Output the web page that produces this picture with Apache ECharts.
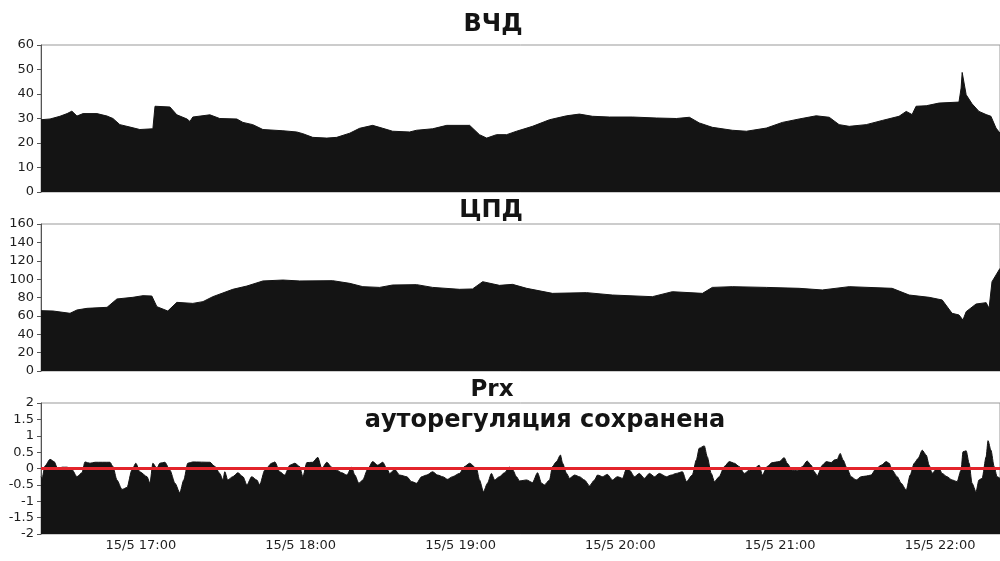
<!DOCTYPE html>
<html><head><meta charset="utf-8">
<script src="https://cdn.jsdelivr.net/npm/echarts@6/dist/echarts.min.js"></script>
<style>html,body{margin:0;padding:0;background:#fff}#c{width:1000px;height:561px}</style>
</head><body><div id="c"></div>
<script>
// times: minutes after 16:00 on 15 May
const vchdT = [22.5,25.9,29.6,32.3,34.1,36,38.3,43.5,47.3,49.5,52.1,55.9,59.6,64.5,65.3,70.9,73.5,77.3,78.4,79.5,85.9,89.6,96,98.3,102,105.8,113.3,118.5,120.8,124.5,129.8,133.5,138.4,142.1,147,150.8,154.5,160.9,163.5,169.5,174.8,183.4,187.1,189.8,193.5,197.3,201,207,213.4,219.8,224.6,229.5,235.9,244.5,253.5,261,265.9,269.6,274.5,282,287.3,294.8,300.8,307.1,313.5,318.4,322.1,325.9,332.3,338.3,344.6,347.3,349.5,351,354.8,359.6,367.1,367.9,368.3,369.8,372,374.6,377.3,379.1,381,382.5];
const vchdV = [29.5,29.8,30.9,32,33,31,32,32,31,30,27.5,26.5,25.5,25.8,35,34.7,31.5,29.8,28.8,30.6,31.5,30,29.8,28.4,27.5,25.5,25,24.5,23.8,22.3,22,22.3,24,26,27.2,26,24.8,24.5,25.2,25.8,27.2,27.2,23.4,22,23.4,23.4,24.8,26.8,29.5,31.1,31.8,30.9,30.6,30.6,30.2,30,30.5,28.2,26.4,25.2,24.8,26.1,28.4,29.8,31.1,30.5,27.5,26.8,27.5,29.2,30.9,32.9,31.6,35,35.2,36.3,36.7,42.4,48.8,39.7,36,32.9,31.6,30.9,26.1,24];

const cpdT = [22.5,27,33.4,36,39.8,47.3,51,57,60.8,64.1,66,70.1,73.5,79.5,83.3,87,94.5,99.8,105.8,113.3,119.6,132,138.4,143.3,149.6,154.5,163.5,169.5,179.6,184.5,188.3,194.6,199.5,204.8,214.5,227.3,237,252,259.5,270.8,274.5,282,294.8,307.1,315.8,325.9,342,348.4,355.9,360.8,364.5,367.1,368.6,369.8,373.5,377.3,378.4,379.5,382.5];
const cpdV = [65.7,65.3,62.8,66.4,68.2,69.3,78.4,80.2,82,81.6,70,65.3,74.7,73.6,75.5,80.9,88.9,92.5,98,99,98,98.3,95.4,91.8,91,93.6,94,91,88.9,89.3,97.2,93.2,94.3,90,84.5,85.3,82.7,80.9,86.3,84.5,91,91.8,91,90,88.2,91.8,90,82.7,80.2,77.3,62.8,61,55.5,64.6,72.9,74.4,68.2,97.2,111.7];

const prxT = [
22.5,22.9,24.0,25.9,27.4,28.9,30.4,32.3,34.1,36.0,
37.9,39.0,40.9,42.8,48.4,49.5,51.0,52.9,54.8,56.6,
58.1,59.6,62.3,63.4,64.5,66.0,67.1,69.0,70.9,72.8,
74.6,76.1,77.6,79.5,85.9,87.8,89.6,90.8,91.5,92.6,
94.5,96.4,98.3,99.8,101.6,103.5,104.6,106.5,109.1,110.3,
112.1,114.0,115.9,117.8,119.6,120.8,122.3,124.5,126.4,127.9,
129.8,131.6,133.5,135.4,137.3,139.1,140.3,141.8,143.3,145.1,
147.0,148.9,150.8,152.3,153.4,155.3,157.1,159.8,161.6,163.5,
165.4,167.3,169.5,171.4,173.3,175.1,177.0,179.6,181.5,183.4,
186.0,187.1,188.6,190.1,191.6,192.8,194.6,196.5,198.4,199.5,
201.0,202.1,204.8,207.0,208.9,210.4,211.5,213.4,214.5,216.0,
217.5,218.3,219.8,220.9,222.8,224.6,226.5,228.4,230.3,231.4,
233.3,235.1,237.0,238.9,240.8,242.3,243.4,245.3,247.1,249.0,
250.9,252.8,254.6,257.3,259.1,261.0,263.3,264.8,267.0,268.5,
269.6,271.5,272.6,274.1,275.3,277.1,279.0,280.9,282.8,284.6,
286.5,288.4,290.3,292.1,293.3,295.1,297.0,299.6,301.5,302.6,
304.5,306.4,308.3,310.1,311.6,312.8,313.9,315.8,317.3,319.1,
320.3,321.4,322.5,323.6,325.1,326.6,328.5,330.4,332.3,334.1,
336.0,337.9,339.8,340.9,342.0,343.9,345.4,347.3,348.8,350.3,
351.8,353.3,354.8,355.9,357.0,358.5,359.6,360.8,362.6,364.5,
366.4,367.9,368.6,369.8,370.9,372.0,373.5,374.6,375.8,377.3,
378.0,379.1,380.3,381.4,382.5];
const prxV = [
-0.25,-0.3,0.08,0.28,0.21,-0.03,0.04,0.04,-0.03,-0.25,
-0.13,0.2,0.16,0.19,0.19,0.06,-0.35,-0.64,-0.58,-0.05,
0.16,-0.1,-0.25,-0.45,0.16,0,0.16,0.19,-0.05,-0.45,
-0.74,-0.35,0.16,0.2,0.19,0.06,-0.15,-0.35,-0.1,-0.35,
-0.25,-0.13,-0.25,-0.5,-0.25,-0.35,-0.5,-0.05,0.16,0.2,
-0.1,-0.2,0.1,0.16,0.06,-0.25,0.18,0.19,0.34,0,
0.19,0.04,-0.05,-0.13,-0.2,0.04,-0.2,-0.45,-0.35,-0.03,
0.21,0.1,0.19,0,-0.15,-0.03,-0.2,-0.25,-0.4,-0.45,
-0.25,-0.2,-0.1,-0.2,-0.25,-0.33,-0.25,-0.15,0.06,0.16,
0,-0.35,-0.71,-0.45,-0.15,-0.35,-0.25,-0.13,0.04,-0.03,
-0.25,-0.38,-0.35,-0.43,-0.13,-0.45,-0.5,-0.35,0.06,0.21,
0.41,0.16,-0.15,-0.3,-0.2,-0.25,-0.35,-0.53,-0.35,-0.2,
-0.25,-0.18,-0.35,-0.25,-0.3,0,-0.05,-0.25,-0.15,-0.3,
-0.15,-0.25,-0.15,-0.25,-0.2,-0.15,-0.1,-0.4,-0.2,0.26,
0.62,0.69,0.36,-0.15,-0.4,-0.25,0.06,0.21,0.16,0.06,
-0.15,-0.05,0,0.1,-0.2,0.06,0.18,0.21,0.33,0.16,
-0.05,-0.07,0.06,0.23,0.1,-0.1,-0.22,0.1,0.21,0.18,
0.26,0.28,0.46,0.26,0,-0.25,-0.35,-0.25,-0.23,-0.2,
0,0.1,0.21,0.16,-0.05,-0.25,-0.45,-0.66,-0.2,0.16,
0.31,0.56,0.41,0.1,-0.15,-0.03,0,-0.15,-0.25,-0.35,
-0.4,-0.05,0.51,0.54,0.16,-0.45,-0.71,-0.35,-0.3,0.36,
0.85,0.56,0.06,-0.25,-0.3];

const titles = ['ВЧД', 'ЦПД', 'Prx', 'ауторегуляция сохранена'];
const refLine = 0;

const T0 = new Date(2015, 4, 15, 16, 0, 0).getTime();
const toMs = m => T0 + m * 60000;
const pairs = (t, v) => t.slice(0, Math.min(t.length, v.length)).map((m, i) => [toMs(m), v[i]]);
const xMin = toMs(22.5), xMax = toMs(382.5);
const FONT = '"DejaVu Sans", Verdana, sans-serif';
const INK = '#141414';

const chart = echarts.init(document.getElementById('c'), null, {renderer: 'canvas'});
const pad = n => (n < 10 ? '0' : '') + n;

function xAx(idx, showLabels) {
  return {
    type: 'time', gridIndex: idx, min: xMin, max: xMax,
    minInterval: 3600000, maxInterval: 3600000,
    axisLine: {show: false}, axisTick: {show: false}, splitLine: {show: false},
    axisLabel: {
      show: showLabels, color: '#1e1e1e', fontFamily: FONT, fontSize: 13, margin: 5,
      hideOverlap: false,
      formatter: v => { const d = new Date(v); return d.getDate() + '/' + (d.getMonth() + 1) + ' ' + pad(d.getHours()) + ':' + pad(d.getMinutes()); }
    }
  };
}
function yAx(idx, min, max, interval) {
  return {
    type: 'value', gridIndex: idx, min, max, interval,
    axisLine: {show: true, lineStyle: {color: '#555', width: 1}},
    axisTick: {show: true, length: 4, lineStyle: {color: '#555'}},
    splitLine: {show: false},
    axisLabel: {color: '#1e1e1e', fontFamily: FONT, fontSize: 13, margin: 7}
  };
}
function area(idx, data, extra) {
  return Object.assign({
    type: 'line', xAxisIndex: idx, yAxisIndex: idx, data,
    symbol: 'none', silent: true,
    lineStyle: {color: INK, width: 1},
    areaStyle: {color: INK, opacity: 1, origin: 'start'}
  }, extra || {});
}

chart.setOption({
  animation: false,
  backgroundColor: '#fff',
  grid: [
    {left: 41, right: 0, top: 45, height: 147, show: true, borderColor: '#999', borderWidth: 1, backgroundColor: 'transparent'},
    {left: 41, right: 0, top: 224, height: 147, show: true, borderColor: '#999', borderWidth: 1, backgroundColor: 'transparent'},
    {left: 41, right: 0, top: 403, height: 131, show: true, borderColor: '#999', borderWidth: 1, backgroundColor: 'transparent'}
  ],
  xAxis: [xAx(0, false), xAx(1, false), xAx(2, true)],
  yAxis: [yAx(0, 0, 60, 10), yAx(1, 0, 160, 20), yAx(2, -2, 2, 0.5)],
  series: [
    area(0, pairs(vchdT, vchdV)),
    area(1, pairs(cpdT, cpdV)),
    area(2, pairs(prxT, prxV), {
      smooth: 0.25, smoothMonotone: 'x',
      markLine: {
        silent: true, symbol: ['none', 'none'], label: {show: false},
        lineStyle: {color: '#e3242b', width: 3, type: 'solid'},
        data: [{yAxis: refLine}]
      }
    })
  ],
  graphic: [
    {type: 'text', x: 493, y: 25, style: {text: titles[0], font: 'bold 24px ' + FONT, fill: INK, textAlign: 'center', textVerticalAlign: 'middle'}},
    {type: 'text', x: 491, y: 211, style: {text: titles[1], font: 'bold 24px ' + FONT, fill: INK, textAlign: 'center', textVerticalAlign: 'middle'}},
    {type: 'text', x: 492, y: 390, style: {text: titles[2], font: 'bold 23px ' + FONT, fill: INK, textAlign: 'center', textVerticalAlign: 'middle'}},
    {type: 'text', x: 545, y: 421, style: {text: titles[3], font: 'bold 24px ' + FONT, fill: INK, textAlign: 'center', textVerticalAlign: 'middle'}}
  ]
});
</script></body></html>
